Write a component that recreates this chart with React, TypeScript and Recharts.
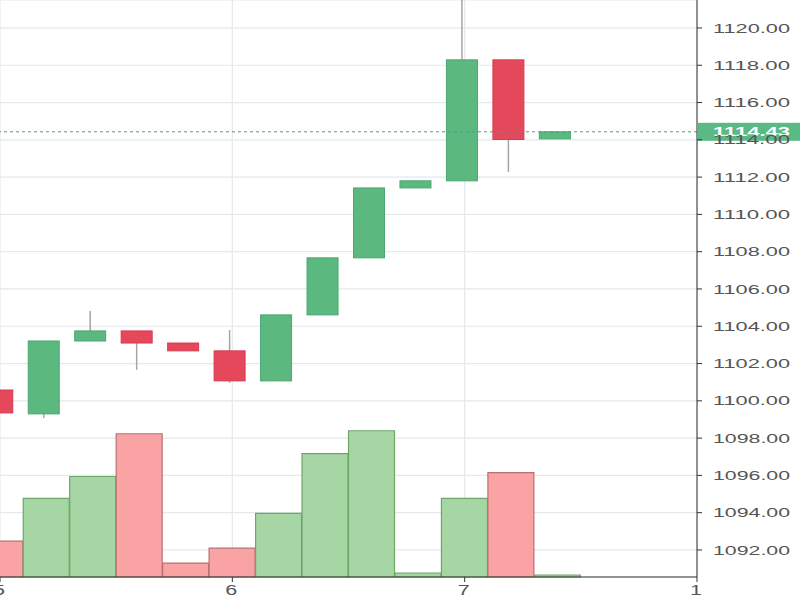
import { ComposedChart, Bar, Cell, XAxis, YAxis, CartesianGrid, ReferenceLine } from 'recharts';

// candle slots, 5 per day
const slots = [0, 1, 2, 3, 4, 5, 6, 7, 8, 9, 10, 11, 12];
const opens = [1100.58, 1099.3, 1103.21, 1103.75, 1103.1, 1102.68, 1101.07, 1104.61, 1107.67, 1111.42, 1111.8, 1118.29, 1114.05];
const closes = [1099.35, 1103.21, 1103.75, 1103.1, 1102.68, 1101.07, 1104.61, 1107.67, 1111.42, 1111.8, 1118.29, 1114.02, 1114.43];
const highs = [1100.58, 1103.21, 1104.82, 1103.75, 1103.1, 1103.8, 1104.61, 1107.67, 1111.42, 1111.8, 1123.0, 1118.29, 1114.43];
const lows = [1099.35, 1099.08, 1103.21, 1101.66, 1102.68, 1100.96, 1101.07, 1104.61, 1107.67, 1111.42, 1111.8, 1112.28, 1114.05];
const volumes = [1800, 3950, 5050, 7200, 700, 1450, 3200, 6200, 7350, 200, 3950, 5250, 100];

const dayTicks = [0, 5, 10, 15];
const dayLabels = ['5', '6', '7', '1'];
const priceTicks = [1092, 1094, 1096, 1098, 1100, 1102, 1104, 1106, 1108, 1110, 1112, 1114, 1116, 1118, 1120];
const lastPrice = 1114.43;

const UP = '#5bb97f';
const DOWN = '#e6485b';

const rows = slots.map((s, i) => ({
    slot: s,
    open: opens[i],
    close: closes[i],
    high: highs[i],
    low: lows[i],
    volume: volumes[i],
}));

const Candle = (props: any) => {
    const { y, width, height, payload } = props;
    const x = props.x - 3; // candles sit slightly left of the volume bars
    const { open, close, high, low } = payload;
    const ratio = height / (high - low);
    const py = (v: number) => y + (high - v) * ratio;
    const up = close >= open;
    const top = py(Math.max(open, close));
    const bottom = py(Math.min(open, close));
    const cx = x + width / 2;
    return (
        <g>
            <line x1={cx} x2={cx} y1={py(high)} y2={py(low)} stroke="#a5a5a5" strokeWidth={1.5} />
            <rect
                x={x}
                y={top}
                width={width}
                height={Math.max(bottom - top, 1)}
                fill={up ? UP : DOWN}
                stroke={up ? '#4aa86e' : '#d43c4f'}
                strokeWidth={1}
            />
        </g>
    );
};

const PriceTick = (props: any) => {
    const { x, y, payload } = props;
    return (
        <text x={x} y={y} dy="0.35em" fill="#555" fontSize={13} fontFamily="Arial, 'Liberation Sans'" textLength={77} lengthAdjust="spacingAndGlyphs">
            {payload.value.toFixed(2)}
        </text>
    );
};

const DayTick = (props: any) => {
    const { x, y, payload } = props;
    const label = dayLabels[dayTicks.indexOf(payload.value)];
    return (
        <text x={x - 7} y={y} dy="0.71em" fill="#555" fontSize={14} fontFamily="Arial, 'Liberation Sans'" textLength={12} lengthAdjust="spacingAndGlyphs">
            {label}
        </text>
    );
};

const LastPriceLabel = (props: any) => {
    const { viewBox } = props;
    const left = viewBox.x + viewBox.width + 1;
    return (
        <g>
            <rect x={left} y={viewBox.y - 9} width={110} height={18} fill="#5bb985" />
            <text x={left + 15} y={viewBox.y} dy="0.35em" fill="#fff" fontWeight="bold" fontSize={13} fontFamily="Arial, 'Liberation Sans'" textLength={77} lengthAdjust="spacingAndGlyphs">
                {lastPrice.toFixed(2)}
            </text>
        </g>
    );
};

const App = () => {
    return (
        <div style={{ position: 'absolute', left: 0, top: 0, width: 800, height: 600, background: '#fff' }}>
            <ComposedChart width={800} height={600} data={rows} margin={{ top: 0, right: 0, bottom: 0, left: 0 }}>
                <CartesianGrid xAxisId="day" yAxisId="price" stroke="#e3e9ed" strokeWidth={1.2} />
                <XAxis
                    xAxisId="day"
                    dataKey="slot"
                    type="number"
                    domain={[0, 15]}
                    ticks={dayTicks}
                    interval={0}
                    height={23}
                    axisLine={{ stroke: '#333' }}
                    tickLine={{ stroke: '#333' }}
                    tickSize={5}
                    tickMargin={3}
                    tick={<DayTick />}
                />
                <XAxis xAxisId="vol" dataKey="slot" type="number" domain={[0, 15]} hide />
                <YAxis
                    yAxisId="price"
                    orientation="right"
                    type="number"
                    domain={[1090.55, 1121.5]}
                    allowDataOverflow
                    ticks={priceTicks}
                    interval={0}
                    width={103}
                    axisLine={{ stroke: '#333' }}
                    tickLine={{ stroke: '#333' }}
                    tickSize={5}
                    tickMargin={11}
                    tick={<PriceTick />}
                />
                <YAxis yAxisId="vol" type="number" domain={[0, 29000]} hide />
                <Bar xAxisId="vol" yAxisId="vol" dataKey="volume" barSize={46} isAnimationActive={false} strokeWidth={1.2}>
                    {rows.map((r, i) => (
                        <Cell
                            key={i}
                            fill={r.close >= r.open ? '#a6d6a3' : '#f9a3a4'}
                            stroke={r.close >= r.open ? '#6ea66a' : '#b87072'}
                        />
                    ))}
                </Bar>
                <Bar
                    xAxisId="day"
                    yAxisId="price"
                    dataKey={(d: any) => [d.low, d.high]}
                    barSize={31}
                    shape={<Candle />}
                    isAnimationActive={false}
                />
                <ReferenceLine
                    xAxisId="day"
                    yAxisId="price"
                    y={lastPrice}
                    stroke="#4e9c80"
                    strokeDasharray="3 3"
                    label={<LastPriceLabel />}
                />
            </ComposedChart>
        </div>
    );
};

export default App;
